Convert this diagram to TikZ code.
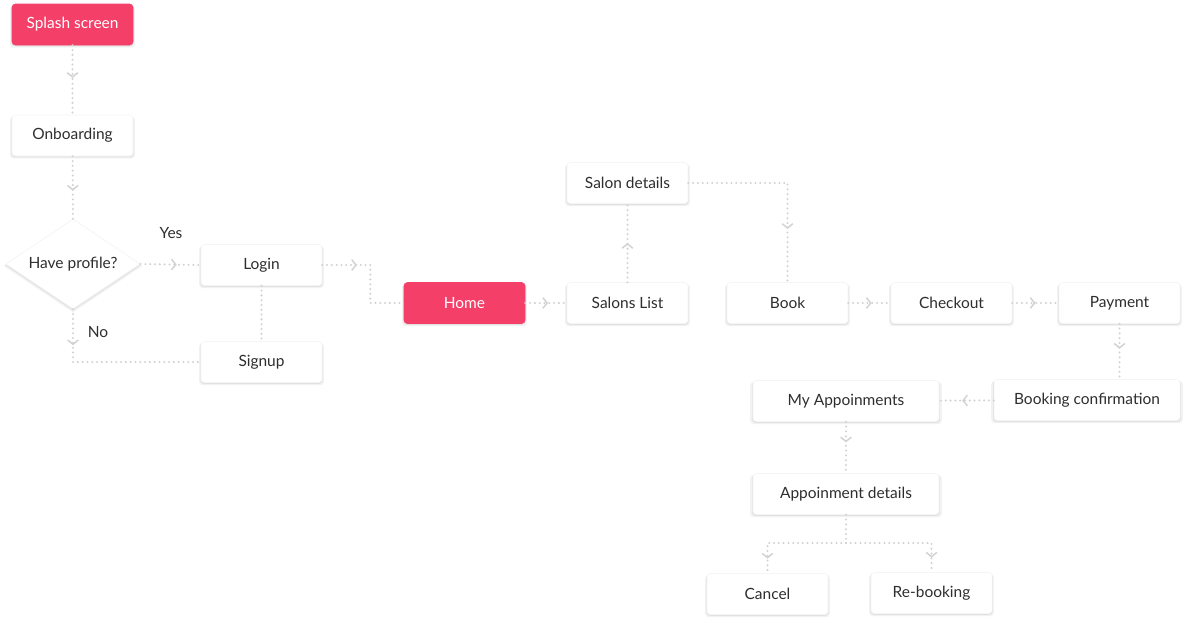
\documentclass[tikz,border=0pt]{standalone}
\usepackage{fontspec}
\setmainfont{Lato}
\usepackage{tikz}
\usetikzlibrary{positioning, arrows.meta, calc, shapes.geometric, shadows, decorations.markings}
\usepackage{xcolor}
\definecolor{brandred}{HTML}{F43F69}
\definecolor{flowgray}{HTML}{D2D2D2}
\definecolor{inkgray}{HTML}{2E2E2E}

\begin{document}
\begin{tikzpicture}[x=0.75pt, y=-0.75pt,
  softshadow/.style={
    drop shadow={shadow xshift=0pt, shadow yshift=-1.5pt, shadow scale=1.03, opacity=0.05, fill=black},
    drop shadow={shadow xshift=0pt, shadow yshift=-0.8pt, shadow scale=1.01, opacity=0.07, fill=black}},
  screen/.style={rectangle, rounded corners=2.5pt, fill=white, draw=black!4, text=inkgray,
    minimum width=90.75pt, minimum height=30.75pt, inner sep=0pt,
    font=\fontsize{11.6}{14}\selectfont, softshadow},
  widescreen/.style={screen, minimum width=139.5pt},
  accent/.style={screen, fill=brandred, draw=brandred, text=white},
  choice/.style={diamond, aspect=1.5, fill=white, draw=black!5, text=inkgray, inner sep=0pt,
    minimum width=101pt, minimum height=67.5pt,
    font=\fontsize{11.6}{14}\selectfont, softshadow},
  tag/.style={text=inkgray, font=\fontsize{11.6}{14}\selectfont},
  flow/.style={draw=flowgray, line width=1.7pt, line cap=round, dash pattern=on 0pt off 3.6pt},
  midarrow/.style={postaction={decorate}, decoration={markings,
    mark=at position #1 with {\arrow[flowgray, line width=1.1pt]{Straight Barb[length=3.2pt, width=8pt]}}}}
]
  \useasboundingbox (0,0) rectangle (1187,625);

  % Entry screens
  \node[accent] (splash) at (72.5,24.5) {Splash screen};
  \node[screen] (onboard) at (72.5,135.5) {Onboarding};
  \node[choice] (profile) at (73,264) {Have profile?};
  \node[screen] (login) at (261.5,265) {Login};
  \node[screen] (signup) at (261.5,362) {Signup};
  \node[tag] (yes) at (171,233) {Yes};
  \node[tag] (no) at (98,332) {No};

  % Browsing
  \node[accent] (home) at (464.5,303) {Home};
  \node[screen] (salons) at (627.5,303) {Salons List};
  \node[screen] (details) at (627.5,183) {Salon details};

  % Booking
  \node[screen] (book) at (787.5,303) {Book};
  \node[screen] (checkout) at (951.5,303) {Checkout};
  \node[screen] (payment) at (1119.5,303) {\raisebox{1.5pt}{Payment}};
  \node[widescreen] (confirm) at (1087,400) {\raisebox{1pt}{Booking confirmation}};
  \node[widescreen] (myappt) at (846,401) {My Appoinments};
  \node[widescreen] (apptdetails) at (846,494) {Appoinment details};
  \node[screen] (cancel) at (767.5,594) {Cancel};
  \node[screen] (rebook) at (931.5,593) {Re-booking};
  \coordinate (fork) at (846,543);

  % Connectors
  \draw[flow, midarrow=0.47] (splash) -- (onboard);
  \draw[flow, midarrow=0.55] (onboard) -- (profile.north);
  \draw[flow, midarrow=0.6] (profile.east) -- (login.west);
  \draw[flow, midarrow=27pt] (profile.south) |- (signup.west);
  \draw[flow] (login) -- (signup);
  \draw[flow, midarrow=26pt] (login.east) -- ++(48,0) |- (home.west);
  \draw[flow, midarrow=0.55] (home) -- (salons);
  \draw[flow, midarrow=0.5] (salons) -- (details);
  \draw[flow, midarrow=-40pt] (details.east) -| (book.north);
  \draw[flow, midarrow=0.55] (book) -- (checkout);
  \draw[flow, midarrow=0.5] (checkout) -- (payment);
  \draw[flow, midarrow=0.45] (payment.south) -- (payment.south |- confirm.north);
  \draw[flow, midarrow=0.58] (confirm) -- (myappt);
  \draw[flow, midarrow=0.4] (myappt) -- (apptdetails);
  \draw[flow] (apptdetails.south) -- (fork);
  \draw[flow, midarrow=-11pt] (fork) -| (cancel.north);
  \draw[flow, midarrow=-11pt] (fork) -| (rebook.north);

\end{tikzpicture}
\end{document}
